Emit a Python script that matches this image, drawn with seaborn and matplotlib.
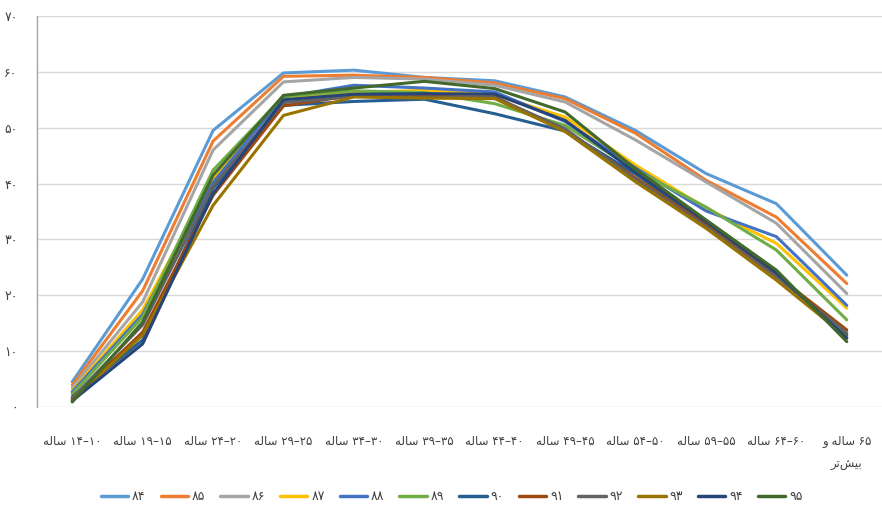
import matplotlib
matplotlib.use("Agg")
import matplotlib.pyplot as plt
import seaborn as sns
import pandas as pd
from matplotlib.lines import Line2D

# visual-order (pre-shaped) Persian labels
SALEH = "\uFEEA\uFEDF\uFE8E\uFEB3"  # ساله
categories = [
    SALEH + " ۱۴–۱۰",
    SALEH + " ۱۹–۱۵",
    SALEH + " ۲۴–۲۰",
    SALEH + " ۲۹–۲۵",
    SALEH + " ۳۴–۳۰",
    SALEH + " ۳۹–۳۵",
    SALEH + " ۴۴–۴۰",
    SALEH + " ۴۹–۴۵",
    SALEH + " ۵۴–۵۰",
    SALEH + " ۵۹–۵۵",
    SALEH + " ۶۴–۶۰",
    "\uFEED " + SALEH + " ۶۵\n\uFEAE\uFE97\uFEB6\uFEF4\uFE91",
]

years = ["۸۴", "۸۵", "۸۶", "۸۷", "۸۸", "۸۹", "۹۰", "۹۱", "۹۲", "۹۳", "۹۴", "۹۵"]

v84 = [4.5, 22.9, 49.5, 59.8, 60.3, 59.0, 58.4, 55.5, 49.5, 41.8, 36.4, 23.6]
v85 = [3.9, 20.8, 47.6, 59.2, 59.4, 59.0, 58.0, 55.2, 49.0, 40.6, 34.0, 22.1]
v86 = [3.4, 18.8, 46.0, 58.2, 59.0, 58.7, 57.6, 54.6, 47.8, 40.3, 32.9, 20.3]
v87 = [2.9, 17.4, 40.8, 55.2, 56.3, 56.7, 55.9, 51.9, 43.3, 35.6, 29.3, 17.7]
v88 = [2.7, 16.6, 40.2, 55.5, 57.6, 57.1, 56.4, 51.1, 42.8, 35.1, 30.5, 18.2]
v89 = [2.3, 16.1, 42.4, 55.6, 56.6, 56.3, 54.3, 50.4, 42.4, 35.8, 28.1, 15.6]
v90 = [1.8, 12.0, 39.2, 54.0, 54.7, 55.1, 52.5, 49.4, 41.7, 32.9, 23.8, 12.9]
v91 = [1.4, 13.4, 37.9, 53.9, 55.8, 55.6, 55.5, 49.6, 41.0, 32.6, 23.6, 13.8]
v92 = [1.6, 14.7, 39.6, 54.5, 55.6, 55.5, 55.4, 49.8, 40.7, 32.3, 23.3, 13.3]
v93 = [1.2, 12.9, 36.1, 52.2, 55.5, 55.3, 55.2, 49.3, 40.3, 32.0, 22.7, 12.5]
v94 = [1.1, 11.3, 38.2, 55.0, 56.0, 56.1, 56.0, 51.3, 42.0, 33.2, 24.0, 12.3]
v95 = [0.9, 15.2, 41.5, 55.8, 57.1, 58.3, 57.0, 52.8, 42.6, 33.5, 24.5, 11.7]

series = [v84, v85, v86, v87, v88, v89, v90, v91, v92, v93, v94, v95]
colors = ["#5B9BD5", "#ED7D31", "#A5A5A5", "#FFC000", "#4472C4", "#70AD47",
          "#255E91", "#9E480E", "#636363", "#997300", "#264478", "#43682B"]

ytick_vals = [0, 10, 20, 30, 40, 50, 60, 70]
ytick_labels = ["۰", "۱۰", "۲۰", "۳۰", "۴۰", "۵۰", "۶۰", "۷۰"]

rows = []
for yr, vals in zip(years, series):
    for i, v in enumerate(vals):
        rows.append({"year": yr, "pos": i, "value": v})
df = pd.DataFrame(rows)

sns.set_style("white")
plt.rcParams["font.family"] = ["DejaVu Sans"]

fig = plt.figure(figsize=(8.82, 5.09), dpi=100)
ax = fig.add_axes([0.042, 0.2004, 0.958, 0.7682])

palette = dict(zip(years, colors))
sns.lineplot(data=df, x="pos", y="value", hue="year", hue_order=years,
             palette=palette, linewidth=2.2, sort=False, legend=False, ax=ax)

ax.set_xlim(-0.5, len(categories) - 0.5)
ax.set_ylim(0, 70)
ax.set_xticks(range(len(categories)))
ax.set_xticklabels(categories, fontsize=8.5, color="#404040", linespacing=2.0,
                   va="top")
ax.set_yticks(ytick_vals)
ax.set_yticklabels(ytick_labels, fontsize=9, color="#404040")
ax.tick_params(axis="x", length=0, pad=20)
ax.tick_params(axis="y", length=0, pad=14)
ax.set_xlabel("")
ax.set_ylabel("")
ax.yaxis.grid(True, color="#d9d9d9", linewidth=1)
ax.set_axisbelow(True)
for s in ["top", "right", "bottom"]:
    ax.spines[s].set_visible(False)
ax.spines["left"].set_color("#a6a6a6")
ax.spines["left"].set_linewidth(1)

handles = [Line2D([0], [0], color=c, lw=2.5) for c in colors]
fig.legend(handles, years, loc="center", bbox_to_anchor=(0.512, 0.024),
           ncol=12, frameon=False, fontsize=9, handlelength=2.2,
           handletextpad=0.3, columnspacing=1.2, labelcolor="#404040",
           borderpad=0.1)

fig.savefig("out.png", dpi=100)
